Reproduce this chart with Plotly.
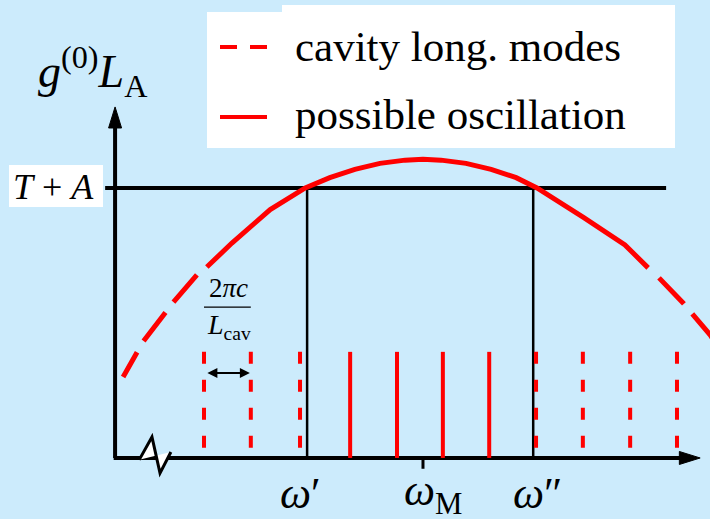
import plotly.graph_objects as go

W, H = 710, 519
BG = "#CCEBFC"
RED = "#FF0000"
SERIF = "Liberation Serif, Times New Roman, serif"

# frequency axis: omega measured from the gain centre omega_M, in units of the mode spacing
# vertical axis: small-signal round-trip gain g(0)*L_A, in units of the loss T + A
threshold = 1.0                       # T + A
omega_prime, omega_dprime = -2.45, 2.33
omega_M = 0.0

# gain curve, part around the threshold region (solid) and the wings (dashed)
gain_w_mid = [-4.57, -4.04, -3.23, -2.49, -1.97, -1.44, -0.91, -0.38, 0.0,
              0.38, 0.91, 1.44, 1.97, 2.41, 3.40, 4.27, 4.76]
gain_g_mid = [0.707, 0.796, 0.920, 1.0, 1.038, 1.069, 1.091, 1.103, 1.106,
              1.103, 1.091, 1.069, 1.038, 1.0, 0.890, 0.789, 0.704]
gain_w_left = [-4.78, -5.29, -5.92, -6.34]
gain_g_left = [0.678, 0.574, 0.430, 0.300]
gain_w_right = [4.99, 5.50, 6.07, 6.25]
gain_g_right = [0.667, 0.574, 0.456, 0.410]

# longitudinal cavity modes
mode_w = [-4.63, -3.64, -2.60, -1.54, -0.55, 0.42, 1.40, 2.39, 3.38, 4.38, 5.37]
mode_h = 0.393

# plot window
x_lo, x_hi = -8.943, 6.068
y_lo, y_hi = -0.226, 1.696


def px(x):
    return x / W


def py(y):
    return 1 - y / H


def comb(ws, h):
    xs, ys = [], []
    for w in ws:
        xs += [w, w, None]
        ys += [h, 0, None]
    return xs, ys


fig = go.Figure()

# vertical markers at omega' and omega''
vx, vy = comb([omega_prime, omega_dprime], threshold - 0.007)
fig.add_trace(go.Scatter(x=vx, y=vy, mode="lines", line=dict(color="black", width=2.5),
                         hoverinfo="skip"))

# cavity modes: dashed outside the oscillation band, solid inside
outside = [w for w in mode_w if w < omega_prime or w > omega_dprime]
inside = [w for w in mode_w if omega_prime < w < omega_dprime]
ox, oy = comb(outside, mode_h)
ix, iy = comb(inside, mode_h)
fig.add_trace(go.Scatter(x=ox, y=oy, mode="lines", line=dict(color=RED, width=4, dash="12px,16px"),
                         hoverinfo="skip"))
fig.add_trace(go.Scatter(x=ix, y=iy, mode="lines", line=dict(color=RED, width=4),
                         hoverinfo="skip"))

# gain profile
for wx, gy, dash in [(gain_w_left, gain_g_left, "36px,13px"),
                     (gain_w_right, gain_g_right, "36px,13px"),
                     (gain_w_mid, gain_g_mid, "solid")]:
    fig.add_trace(go.Scatter(x=wx, y=gy, mode="lines",
                             line=dict(color=RED, width=5, dash=dash), hoverinfo="skip"))

ax_x0 = -6.51
ax_top = 1.30
ax_right = 5.86
shapes = []
# white label boxes
shapes.append(dict(type="rect", xref="paper", yref="paper", x0=px(207), x1=px(675), y0=py(148), y1=py(12),
                   fillcolor="white", line=dict(width=0), layer="below"))
shapes.append(dict(type="rect", xref="paper", yref="paper", x0=px(282), x1=px(675), y0=py(148), y1=py(5),
                   fillcolor="white", line=dict(width=0), layer="below"))
shapes.append(dict(type="rect", xref="paper", yref="paper", x0=px(9), x1=px(103), y0=py(207), y1=py(165),
                   fillcolor="white", line=dict(width=0), layer="below"))
# threshold line
shapes.append(dict(type="line", x0=-6.72, x1=5.14, y0=threshold, y1=threshold,
                   line=dict(color="black", width=4), layer="below"))
# axes
shapes.append(dict(type="line", x0=ax_x0, x1=ax_x0, y0=0, y1=ax_top - 0.07,
                   line=dict(color="black", width=4), layer="below"))
shapes.append(dict(type="line", x0=ax_x0 - 0.03, x1=ax_right - 0.4, y0=0, y1=0,
                   line=dict(color="black", width=4), layer="below"))
# arrow heads
hw = 6.5 / 47.3
shapes.append(dict(type="path",
                   path=f"M {ax_x0} {ax_top} L {ax_x0 - hw} {ax_top - 0.078} L {ax_x0 + hw} {ax_top - 0.078} Z",
                   fillcolor="black", line=dict(color="black", width=1), layer="below"))
hh = 6.5 / 270
shapes.append(dict(type="path",
                   path=f"M {ax_right} 0 L {ax_right - 0.44} {hh} L {ax_right - 0.44} {-hh} Z",
                   fillcolor="black", line=dict(color="black", width=1), layer="below"))
# omega_M tick
shapes.append(dict(type="line", x0=omega_M, x1=omega_M, y0=0, y1=-0.04,
                   line=dict(color="black", width=3), layer="below"))
# axis break
shapes.append(dict(type="path",
                   path="M -6.00 -0.007 L -5.73 0.078 L -5.56 -0.056 L -5.33 0.022 Z",
                   fillcolor="white", line=dict(width=0), layer="below"))
shapes.append(dict(type="path",
                   path="M -6.00 -0.007 L -5.73 0.078 L -5.56 -0.056 L -5.33 0.022",
                   line=dict(color="black", width=3), layer="below"))
# fraction bar of the mode spacing label
shapes.append(dict(type="line", x0=-4.63, x1=-3.64, y0=0.559, y1=0.559,
                   line=dict(color="black", width=1.3)))
# legend samples
shapes.append(dict(type="line", xref="paper", yref="paper", x0=px(220), x1=px(237), y0=py(47), y1=py(47),
                   line=dict(color=RED, width=4)))
shapes.append(dict(type="line", xref="paper", yref="paper", x0=px(250), x1=px(267), y0=py(47), y1=py(47),
                   line=dict(color=RED, width=4)))
shapes.append(dict(type="line", xref="paper", yref="paper", x0=px(220), x1=px(267), y0=py(117), y1=py(117),
                   line=dict(color=RED, width=4)))


def label(text, x, y, size, xanchor="center"):
    return dict(text=text, xref="paper", yref="paper", x=px(x), y=py(y), xanchor=xanchor,
                yanchor="middle", showarrow=False, font=dict(family=SERIF, size=size, color="black"))


annotations = [
    label("<i>g</i><sup>(0)</sup><i>L</i><sub>A</sub>", 36, 72, 46, "left"),
    label("<i>T</i> + <i>A</i>", 53, 187, 36),
    label("cavity long. modes", 293, 46, 43, "left"),
    label("possible oscillation", 293, 114, 43, "left"),
    label("2<i>πc</i>", 228, 288, 27),
    label("<i>L</i><sub>cav</sub>", 229, 326, 28),
    label("<i>ω</i>′", 300, 493, 44),
    label("<i>ω</i><sub>M</sub>", 433, 493, 44),
    label("<i>ω</i>″", 537, 493, 44),
    # mode spacing double arrow
    dict(x=-3.66, y=0.315, ax=-4.59, ay=0.315, xref="x", yref="y", axref="x", ayref="y",
         text="", showarrow=True, arrowhead=2, arrowside="end+start", arrowsize=1,
         arrowwidth=2, arrowcolor="black"),
]

fig.update_layout(
    width=W, height=H,
    margin=dict(l=0, r=0, t=0, b=0),
    paper_bgcolor=BG, plot_bgcolor=BG,
    showlegend=False,
    xaxis=dict(range=[x_lo, x_hi], visible=False, fixedrange=True),
    yaxis=dict(range=[y_lo, y_hi], visible=False, fixedrange=True),
    shapes=shapes,
    annotations=annotations,
)

fig.write_html("out.html")
